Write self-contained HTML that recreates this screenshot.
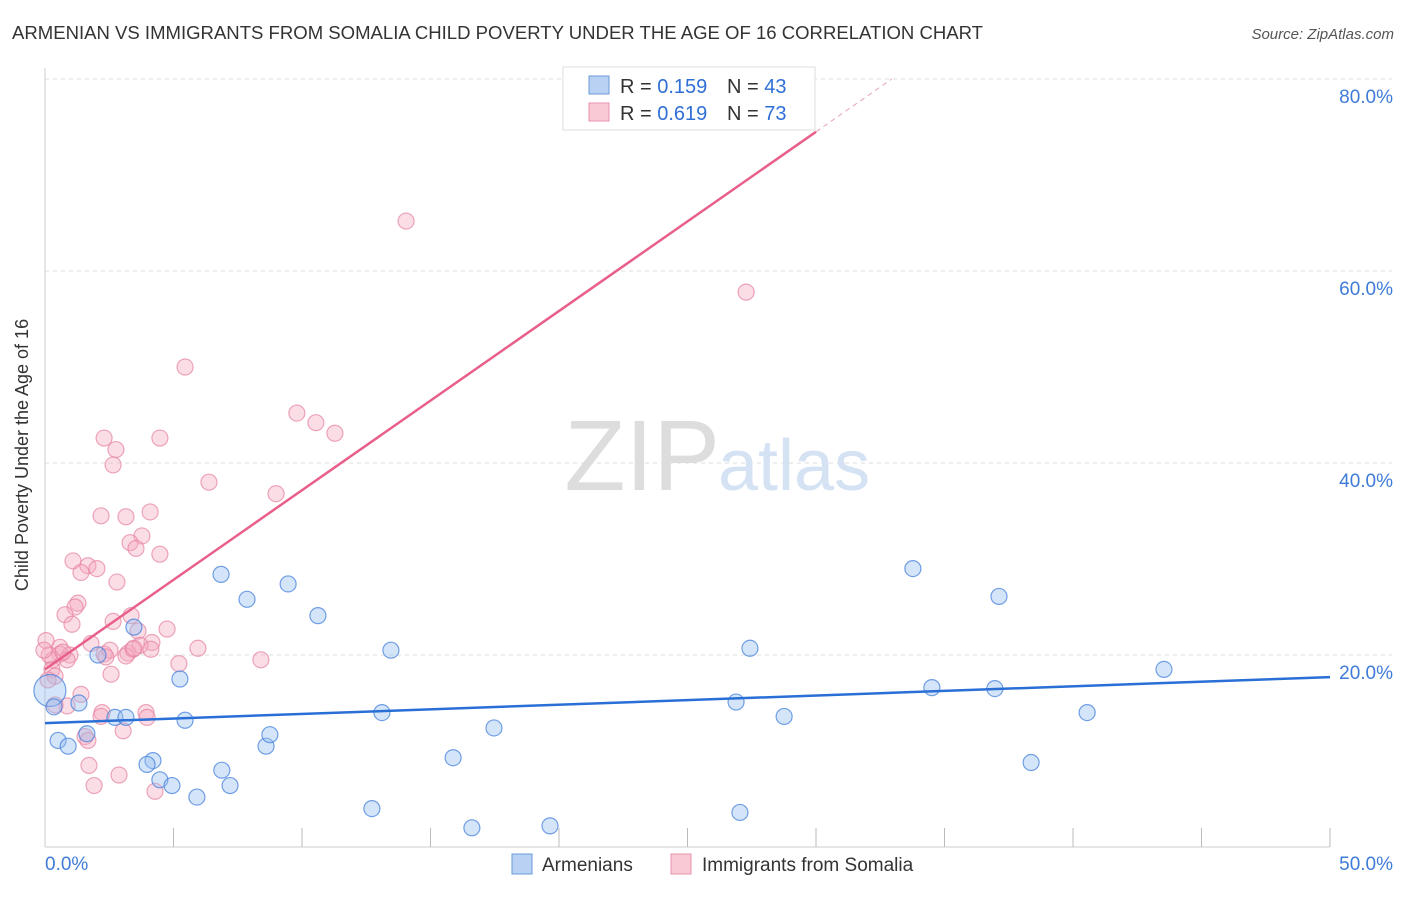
<!DOCTYPE html>
<html><head><meta charset="utf-8"><style>
body{margin:0;background:#fff;font-family:"Liberation Sans",sans-serif;}
svg text{font-family:"Liberation Sans",sans-serif;}
</style></head><body>
<svg id="chart" width="1406" height="892">
<text x="12" y="39" font-size="18" fill="#333" textLength="971" lengthAdjust="spacingAndGlyphs">ARMENIAN VS IMMIGRANTS FROM SOMALIA CHILD POVERTY UNDER THE AGE OF 16 CORRELATION CHART</text>
<text x="1394" y="39" font-size="15" fill="#555" font-style="italic" text-anchor="end">Source: ZipAtlas.com</text>
<text x="28" y="455" font-size="18" fill="#333" text-anchor="middle" transform="rotate(-90 28 455)">Child Poverty Under the Age of 16</text>
<g id="grid"></g>
<text x="720" y="490" font-size="100" fill="#ddd" text-anchor="end" font-family="Liberation Serif">ZIP</text>
<text x="718" y="490" font-size="72" fill="#d4e2f4">atlas</text>
<g id="pts"></g>
<g id="lines"></g>
<g>
<rect x="563" y="67" width="252" height="63" fill="#fff" stroke="#ddd"/>
<rect x="589" y="76" width="20" height="18" fill="#b9d1f3" stroke="#6a9ad8"/>
<text x="620" y="93" font-size="20" fill="#333">R = <tspan fill="#2f6fd6">0.159</tspan></text>
<text x="727" y="93" font-size="20" fill="#333">N = <tspan fill="#2f6fd6">43</tspan></text>
<rect x="589" y="103" width="20" height="18" fill="#f9c9d6" stroke="#e693ab"/>
<text x="620" y="120" font-size="20" fill="#333">R = <tspan fill="#2f6fd6">0.619</tspan></text>
<text x="727" y="120" font-size="20" fill="#333">N = <tspan fill="#2f6fd6">73</tspan></text>
</g>
<g>
<rect x="512" y="854" width="20" height="20" fill="#b9d1f3" stroke="#6a9ad8"/>
<text x="542" y="871" font-size="19" fill="#333">Armenians</text>
<rect x="671" y="854" width="20" height="20" fill="#f9c9d6" stroke="#e693ab"/>
<text x="702" y="871" font-size="19" fill="#333">Immigrants from Somalia</text>
</g>
</svg>
<script>
const yTicks=[20,40,60,80];
const xTickLabels=["0.0%","50.0%"];
const blueX=[6.85,7.86,9.46,10.62,5.25,2.06,3.46,13.46,5.45,2.72,3.15,1.32,0.51,0.90,1.63,4.20,3.97,4.47,4.94,5.91,6.88,7.20,8.60,8.75,13.11,12.72,15.88,17.47,16.61,19.65,33.77,37.12,27.43,34.51,36.96,26.89,28.76,43.54,40.55,38.37,27.04,0.19,0.35];
const blueY=[28.4,25.8,27.4,24.1,17.5,20.0,22.9,20.5,13.2,13.5,13.5,15.0,11.1,10.5,11.8,9.0,8.6,7.0,6.4,5.2,8.0,6.4,10.5,11.7,14.0,4.0,9.3,12.4,2.0,2.2,29.0,26.1,20.7,16.6,16.5,15.1,13.6,18.5,14.0,8.8,3.6,16.3,14.6];
const pinkX=[14.05,27.28,5.45,9.80,10.54,11.28,2.30,4.47,2.76,2.65,6.38,8.99,4.09,3.15,2.18,3.77,3.31,3.54,4.47,1.09,1.67,2.02,1.40,2.80,1.28,1.17,0.78,1.05,2.65,3.35,4.75,3.62,4.16,3.70,1.79,0.58,0.04,0.58,0.97,0.86,0.31,2.30,2.53,3.23,3.42,5.95,5.21,8.40,2.57,0.27,0.39,1.40,0.86,0.39,2.22,2.18,3.93,3.97,3.04,1.56,1.67,1.71,2.88,1.91,4.28,0.12,0.16,-0.04,0.70,2.37,3.15,4.12,3.46];
const pinkY=[65.2,57.8,50.0,45.2,44.2,43.1,42.6,42.6,41.4,39.8,38.0,36.8,34.9,34.4,34.5,32.4,31.7,31.1,30.5,29.8,29.3,29.0,28.6,27.6,25.4,25.0,24.2,23.2,23.5,24.1,22.7,22.5,21.3,21.0,21.2,20.8,21.5,20.1,20.0,19.5,19.5,20.1,20.5,20.2,20.6,20.7,19.1,19.5,18.0,18.5,17.8,15.9,14.7,14.8,14.0,13.6,14.0,13.5,12.1,11.5,11.1,8.5,7.5,6.4,5.8,17.4,20.0,20.5,20.3,19.8,19.9,20.6,20.7];
const blueTrend=[12.9,17.7], pinkTrend=[18.5,74.5];
const X0=45,X1=1330,Y0=847,YS=9.6;
const sx=v=>X0+(X1-X0)*v/50, sy=v=>Y0-v*YS;
const NS="http://www.w3.org/2000/svg";
function mk(tag,at,parent){const e=document.createElementNS(NS,tag);for(const k in at)e.setAttribute(k,at[k]);parent.appendChild(e);return e;}
const grid=document.getElementById('grid');
mk('line',{x1:45,y1:68,x2:45,y2:847,stroke:'#ccc'},grid);
mk('line',{x1:45,y1:847,x2:1330,y2:847,stroke:'#ccc'},grid);
mk('line',{x1:45,y1:79,x2:1392,y2:79,stroke:'#ddd','stroke-dasharray':'4,4'},grid);
yTicks.forEach(t=>{
 const g=mk('line',{x1:45,y1:sy(t),x2:1392,y2:sy(t),stroke:'#ddd','stroke-dasharray':'4,4'},grid);
 
 
 const l=mk('text',{x:1393,y:sy(t)+24,'font-size':19,fill:'#3f7bd8','text-anchor':'end'},grid);
 l.textContent=t.toFixed(1)+'%';
 
 
});
for(let i=1;i<=10;i++){const x=sx(i*5);const t=mk('line',{x1:x,y1:828,x2:x,y2:847,stroke:'#bbb'},grid);
 
 }
xTickLabels.forEach((s,i)=>{const l=mk('text',{x:i?1393:45,y:870,'font-size':19,fill:'#3f7bd8','text-anchor':i?'end':'start'},grid);l.textContent=s;
 
 });
const pts=document.getElementById('pts');
pinkX.forEach((v,i)=>{const c=mk('circle',{cx:sx(v),cy:sy(pinkY[i]),r:8,fill:'rgba(246,170,192,0.4)',stroke:'rgba(230,130,160,0.7)','stroke-width':1.2},pts);
 
 });
blueX.forEach((v,i)=>{const c=mk('circle',{cx:sx(v),cy:sy(blueY[i]),r:i==41?16:8,fill:'rgba(150,190,240,0.4)',stroke:'rgba(70,130,220,0.75)','stroke-width':1.2},pts);
 
 });
const lines=document.getElementById('lines');
const bl=mk('line',{x1:sx(0),y1:sy(blueTrend[0]),x2:sx(50),y2:sy(blueTrend[1]),stroke:'#2a6fd6','stroke-width':2.5},lines);


const slope=(pinkTrend[1]-pinkTrend[0])/30;
const xe=30, xd=(80-pinkTrend[0])/slope;
const pl=mk('line',{x1:sx(0),y1:sy(pinkTrend[0]),x2:sx(xe),y2:sy(pinkTrend[0]+slope*xe),stroke:'#e8608a','stroke-width':2.5},lines);


const pd=mk('line',{x1:sx(xe),y1:sy(pinkTrend[0]+slope*xe),x2:sx(xd),y2:sy(80),stroke:'#e8a0b5','stroke-width':1,'stroke-dasharray':'5,4'},lines);


</script>
</body></html>
